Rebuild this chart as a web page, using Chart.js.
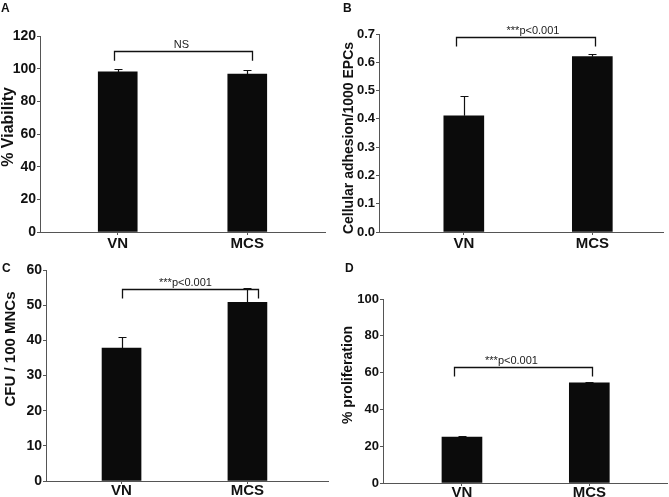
<!DOCTYPE html>
<html><head><meta charset="utf-8">
<script src="https://cdn.jsdelivr.net/npm/chart.js@4/dist/chart.umd.min.js"></script>
<style>
html,body{margin:0;padding:0;background:#fff;}
body{width:669px;height:497px;position:relative;overflow:hidden;font-family:'Liberation Sans',Arial,sans-serif;}
.pane{position:absolute;}
.letter{position:absolute;font-weight:bold;font-size:12px;color:#111;line-height:1;}
</style></head>
<body>
<div class="pane" style="left:0;top:0;width:330px;height:256px"><canvas id="cA" width="330" height="256"></canvas></div>
<div class="pane" style="left:330px;top:0;width:339px;height:256px"><canvas id="cB" width="339" height="256"></canvas></div>
<div class="pane" style="left:0;top:250px;width:330px;height:247px"><canvas id="cC" width="330" height="247"></canvas></div>
<div class="pane" style="left:330px;top:250px;width:339px;height:247px"><canvas id="cD" width="339" height="247"></canvas></div>
<div class="letter" style="left:1px;top:2px">A</div>
<div class="letter" style="left:343px;top:2px">B</div>
<div class="letter" style="left:2px;top:262px">C</div>
<div class="letter" style="left:345px;top:262px">D</div>
<script>
// ---- data ----
const categories = ['VN', 'MCS'];
const viability = [98.0, 96.7];
const viabilityErr = [1.5, 2.5];
const adhesion = [0.411, 0.620];
const adhesionErr = [0.070, 0.009];
const cfu = [37.8, 50.8];
const cfuErr = [3.1, 4.0];
const proliferation = [25.0, 54.5];
const proliferationErr = [0.8, 0.5];
const viabilityTicks = [0, 20, 40, 60, 80, 100, 120];
const adhesionTicks = [0.0, 0.1, 0.2, 0.3, 0.4, 0.5, 0.6, 0.7];
const cfuTicks = [0, 10, 20, 30, 40, 50, 60];
const proliferationTicks = [0, 20, 40, 60, 80, 100];
const bracketLabels = ['NS', '***p<0.001', '***p<0.001', '***p<0.001'];
const bracketLevels = [110.8, 0.688, 54.5, 63.3];
const bracketEnds = [104.9, 0.656, 51.9, 57.9];
const yTitles = ['% Viability', 'Cellular adhesion/1000 EPCs', 'CFU / 100 MNCs', '% proliferation'];

const FONT = "'Liberation Sans', Arial, sans-serif";

const annot = {
  id: 'annot',
  afterDatasetsDraw(chart, args, o) {
    const {ctx, scales: {x, y}} = chart;
    ctx.save();
    ctx.strokeStyle = '#111';
    ctx.lineWidth = 1.2;
    o.values.forEach((v, i) => {
      const px = Math.round(x.getPixelForValue(i)) + 0.5;
      const y0 = y.getPixelForValue(v);
      const y1 = Math.round(y.getPixelForValue(v + o.errors[i])) + 0.5;
      ctx.beginPath();
      ctx.moveTo(px, y0); ctx.lineTo(px, y1);
      ctx.moveTo(px - 4, y1); ctx.lineTo(px + 4, y1);
      ctx.stroke();
    });
    const xl = Math.round(x.getPixelForValue(o.bx[0])) + 0.5;
    const xr = Math.round(x.getPixelForValue(o.bx[1])) + 0.5;
    const yt = Math.round(y.getPixelForValue(o.level)) + 0.5;
    const ye = y.getPixelForValue(o.end);
    ctx.lineWidth = 1.3;
    ctx.beginPath();
    ctx.moveTo(xl, ye); ctx.lineTo(xl, yt); ctx.lineTo(xr, yt); ctx.lineTo(xr, ye);
    ctx.stroke();
    ctx.fillStyle = '#222';
    ctx.font = '11px ' + FONT;
    ctx.textAlign = 'center';
    ctx.textBaseline = 'alphabetic';
    ctx.fillText(o.label, (xl + xr) / 2 + o.labelDx, yt - 4);
    // y-axis title
    ctx.translate(o.titleX, o.titleY);
    ctx.rotate(-Math.PI / 2);
    ctx.fillStyle = '#111';
    ctx.font = 'bold ' + o.titleFont + 'px ' + FONT;
    ctx.textAlign = 'center';
    ctx.textBaseline = 'middle';
    ctx.fillText(o.title, 0, 0);
    ctx.restore();
  }
};

function makeChart(id, cfg) {
  const data = cfg.values.map((v, i) => ({x: i, y: v}));
  return new Chart(document.getElementById(id), {
    type: 'bar',
    data: { datasets: [{ data, backgroundColor: '#0b0b0b', borderWidth: 0, barThickness: cfg.barW }] },
    options: {
      responsive: false, animation: false, devicePixelRatio: 1,
      layout: { padding: { top: cfg.padTop, right: cfg.padRight, left: 0, bottom: cfg.padBottom } },
      plugins: {
        legend: { display: false }, tooltip: { enabled: false },
        annot: { values: cfg.values, errors: cfg.errors, bx: cfg.bx, level: cfg.level, end: cfg.end, label: cfg.label, labelDx: cfg.labelDx,
                 title: cfg.title, titleFont: cfg.titleFont, titleX: cfg.titleX, titleY: cfg.titleY }
      },
      scales: {
        x: {
          type: 'linear', offset: false, bounds: 'ticks', min: cfg.xmin, max: cfg.xmax,
          afterBuildTicks: s => { s.ticks = categories.map((c, i) => ({value: i})); },
          afterFit: s => { s.height = cfg.xH; },
          ticks: { callback: v => categories[v], color: '#111', padding: cfg.xPad, maxRotation: 0, font: { family: FONT, weight: 'bold', size: cfg.xFont } },
          grid: { display: true, drawOnChartArea: false, drawTicks: true, tickLength: 3, color: '#555', offset: false },
          border: { display: true, color: '#555', width: 1 }
        },
        y: {
          min: cfg.ticks[0], max: cfg.ticks[cfg.ticks.length - 1],
          afterBuildTicks: s => { s.ticks = cfg.ticks.map(v => ({value: v})); },
          afterFit: s => { s.width = cfg.yW; },
          ticks: { callback: cfg.fmt, color: '#111', padding: 1, font: { family: FONT, weight: 'bold', size: cfg.yFont } },
          grid: { display: true, drawOnChartArea: false, drawTicks: true, tickLength: 3, color: '#555' },
          border: { display: true, color: '#555', width: 1 },
          title: { display: false }
        }
      }
    },
    plugins: [annot]
  });
}

makeChart('cA', { values: viability, errors: viabilityErr, ticks: viabilityTicks, fmt: v => String(v),
  title: yTitles[0], titleFont: 16, titleX: 9, titleY: 127, yFont: 14, xFont: 15, yW: 40, xH: 18, xPad: 0, padBottom: 6,
  padTop: 36, padRight: 5, xmin: -0.6, xmax: 1.6, barW: 39,
  bx: [-0.03, 1.04], level: bracketLevels[0], end: bracketEnds[0], label: bracketLabels[0], labelDx: -2 });

makeChart('cB', { values: adhesion, errors: adhesionErr, ticks: adhesionTicks, fmt: v => v.toFixed(1),
  title: yTitles[1], titleFont: 14, titleX: 19, titleY: 138, yFont: 13, xFont: 15, yW: 49, xH: 18, xPad: 0, padBottom: 6,
  padTop: 34, padRight: 6, xmin: -0.66, xmax: 1.55, barW: 40,
  bx: [-0.06, 1.02], level: bracketLevels[1], end: bracketEnds[1], label: bracketLabels[1], labelDx: 7 });

makeChart('cC', { values: cfu, errors: cfuErr, ticks: cfuTicks, fmt: v => String(v),
  title: yTitles[2], titleFont: 15, titleX: 11, titleY: 99, yFont: 14, xFont: 15, yW: 46, xH: 16, xPad: -2, padBottom: 0,
  padTop: 20, padRight: 2, xmin: -0.6, xmax: 1.64, barW: 39,
  bx: [0.0, 1.08], level: bracketLevels[2], end: bracketEnds[2], label: bracketLabels[2], labelDx: -5 });

makeChart('cD', { values: proliferation, errors: proliferationErr, ticks: proliferationTicks, fmt: v => String(v),
  title: yTitles[3], titleFont: 14, titleX: 18, titleY: 125, yFont: 13, xFont: 15, yW: 53, xH: 14, xPad: -2, padBottom: 0,
  padTop: 49, padRight: 2, xmin: -0.62, xmax: 1.61, barW: 40,
  bx: [-0.06, 1.02], level: bracketLevels[3], end: bracketEnds[3], label: bracketLabels[3], labelDx: -12 });
</script>
</body></html>
